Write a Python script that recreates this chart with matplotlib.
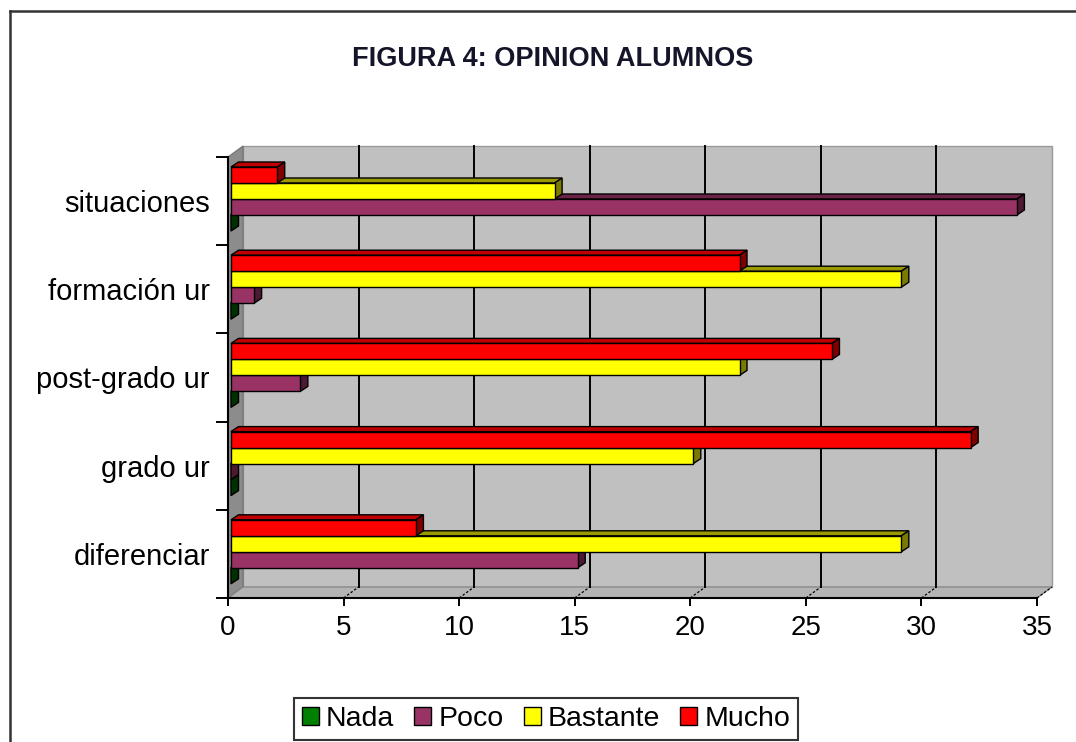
import matplotlib
matplotlib.use('Agg')
import matplotlib.pyplot as plt
from matplotlib.patches import Polygon, Rectangle, Patch
from matplotlib.lines import Line2D

# ---------------- data ----------------
categories = ['diferenciar', 'grado ur', 'post-grado ur', 'formación ur', 'situaciones']
series = ['Nada', 'Poco', 'Bastante', 'Mucho']
nada = [0, 0, 0, 0, 0]
poco = [15, 0, 3, 1, 34]
bastante = [29, 20, 22, 29, 14]
mucho = [8, 32, 26, 22, 2]
xticks = [0, 5, 10, 15, 20, 25, 30, 35]
title = 'FIGURA 4: OPINION ALUMNOS'

values = {'Nada': nada, 'Poco': poco, 'Bastante': bastante, 'Mucho': mucho}
front_c = {'Nada': '#008000', 'Poco': '#993366', 'Bastante': '#FFFF00', 'Mucho': '#FF0000'}
top_c = {'Nada': '#005000', 'Poco': '#6b2447', 'Bastante': '#9a9a00', 'Mucho': '#c00000'}
side_c = {'Nada': '#003000', 'Poco': '#4d1a33', 'Bastante': '#7a7a00', 'Mucho': '#800000'}

plt.rcParams['font.family'] = ['Liberation Sans', 'DejaVu Sans']

W, H = 1076, 742
fig = plt.figure(figsize=(W / 100, H / 100), dpi=100)
fig.patch.set_facecolor('white')

ax_l, ax_b = 228 / W, 1 - 598 / H
ax_w, ax_h = (1037 - 228) / W, (598 - 157) / H
ax = fig.add_axes([ax_l, ax_b, ax_w, ax_h])
xmax = xticks[-1]
ncat = len(categories)
ax.set_xlim(0, xmax)
ax.set_ylim(0, ncat)
ax.patch.set_alpha(0)

ux = xmax / (ax_w * W)   # data units per pixel (x)
uy = ncat / (ax_h * H)   # data units per pixel (y)

# walls (oblique 3D)
dxw, dyw = 15 * ux, 11 * uy
back = Rectangle((dxw, dyw), xmax, ncat, facecolor='#C0C0C0', edgecolor='#9a9a9a',
                 lw=1.0, zorder=1, clip_on=False)
ax.add_patch(back)
left_wall = Polygon([(0, 0), (0, ncat), (dxw, ncat + dyw), (dxw, dyw)], closed=True,
                    facecolor='#8c8c8c', edgecolor='#707070', lw=0.8, zorder=1.2, clip_on=False)
ax.add_patch(left_wall)
floor = Polygon([(0, 0), (xmax, 0), (xmax + dxw, dyw), (dxw, dyw)], closed=True,
                facecolor='#b4b4b4', edgecolor='#808080', lw=0.8, zorder=1.2, clip_on=False)
ax.add_patch(floor)
for v in xticks[1:-1]:
    ax.plot([v + dxw, v + dxw], [dyw, ncat + dyw], color='black', lw=1.4, zorder=1.5,
            clip_on=False)
for v in xticks[1:]:
    ax.plot([v, v + dxw], [0, dyw], color='black', lw=0.9, ls=(0, (2, 1.5)), zorder=1.5,
            clip_on=False)

# bars
hb = 16 * uy
dxb, dyb = 7.5 * ux, 5 * uy
x0 = 3 * ux
order_top_down = ['Mucho', 'Bastante', 'Poco', 'Nada']
z = 3
for i in range(ncat):
    y_top0 = i + 1 - 10 * uy
    for name in reversed(order_top_down):
        k = order_top_down.index(name)
        v = values[name][i]
        yt = y_top0 - k * hb
        yb = yt - hb
        x1 = x0 + v
        topf = Polygon([(x0, yt), (x1, yt), (x1 + dxb, yt + dyb), (x0 + dxb, yt + dyb)],
                       closed=True, facecolor=top_c[name], edgecolor='black', lw=1.0,
                       zorder=z, clip_on=False)
        sidef = Polygon([(x1, yb), (x1, yt), (x1 + dxb, yt + dyb), (x1 + dxb, yb + dyb)],
                        closed=True, facecolor=side_c[name], edgecolor='black', lw=1.0,
                        zorder=z, clip_on=False)
        ax.add_patch(topf)
        ax.add_patch(sidef)
        if v > 0:
            ax.barh(yb, v, height=hb, left=x0, align='edge', color=front_c[name],
                    edgecolor='black', lw=1.0, zorder=z + 0.5, clip_on=False)
        z += 1

# axes styling
for s in ['top', 'right']:
    ax.spines[s].set_visible(False)
for s in ['bottom', 'left']:
    ax.spines[s].set_linewidth(1.5)
    ax.spines[s].set_color('black')
    ax.spines[s].set_zorder(50)
ax.set_xticks(xticks)
ax.set_xticklabels([str(t) for t in xticks])
ax.tick_params(axis='x', length=6, width=1.4, direction='out', labelsize=20, pad=6,
               colors='black')
ax.set_yticks(range(ncat + 1))
ax.set_yticklabels([])
ax.tick_params(axis='y', which='major', length=9, width=1.4, direction='out')
ax.set_yticks([i + 0.5 for i in range(ncat)], minor=True)
ax.set_yticklabels(categories, minor=True)
ax.tick_params(axis='y', which='minor', length=0, labelsize=21, pad=13)

# title
fig.text(553 / W, 1 - 59 / H, title, ha='center', va='center', fontsize=19.5,
         fontweight='bold', color='#15152a')

# legend
handles = [Patch(facecolor=front_c[n], edgecolor='black', lw=1.0) for n in series]
leg = fig.legend(handles, series, loc='center', bbox_to_anchor=(546 / W, 1 - 719 / H),
                 ncol=4, fontsize=20.5, frameon=True, fancybox=False, handlelength=0.6,
                 handleheight=0.6, handletextpad=0.25, columnspacing=0.7,
                 borderpad=0.28, borderaxespad=0)
leg.get_frame().set_edgecolor('black')
leg.get_frame().set_linewidth(1.5)

# outer frame (left & top visible)
fig.add_artist(Line2D([10 / W, 10 / W], [0, 1 - 11 / H], color='#333333', lw=1.8))
fig.add_artist(Line2D([10 / W, 1], [1 - 11 / H, 1 - 11 / H], color='#333333', lw=1.8))

fig.savefig('out.png', dpi=100, facecolor='white')
